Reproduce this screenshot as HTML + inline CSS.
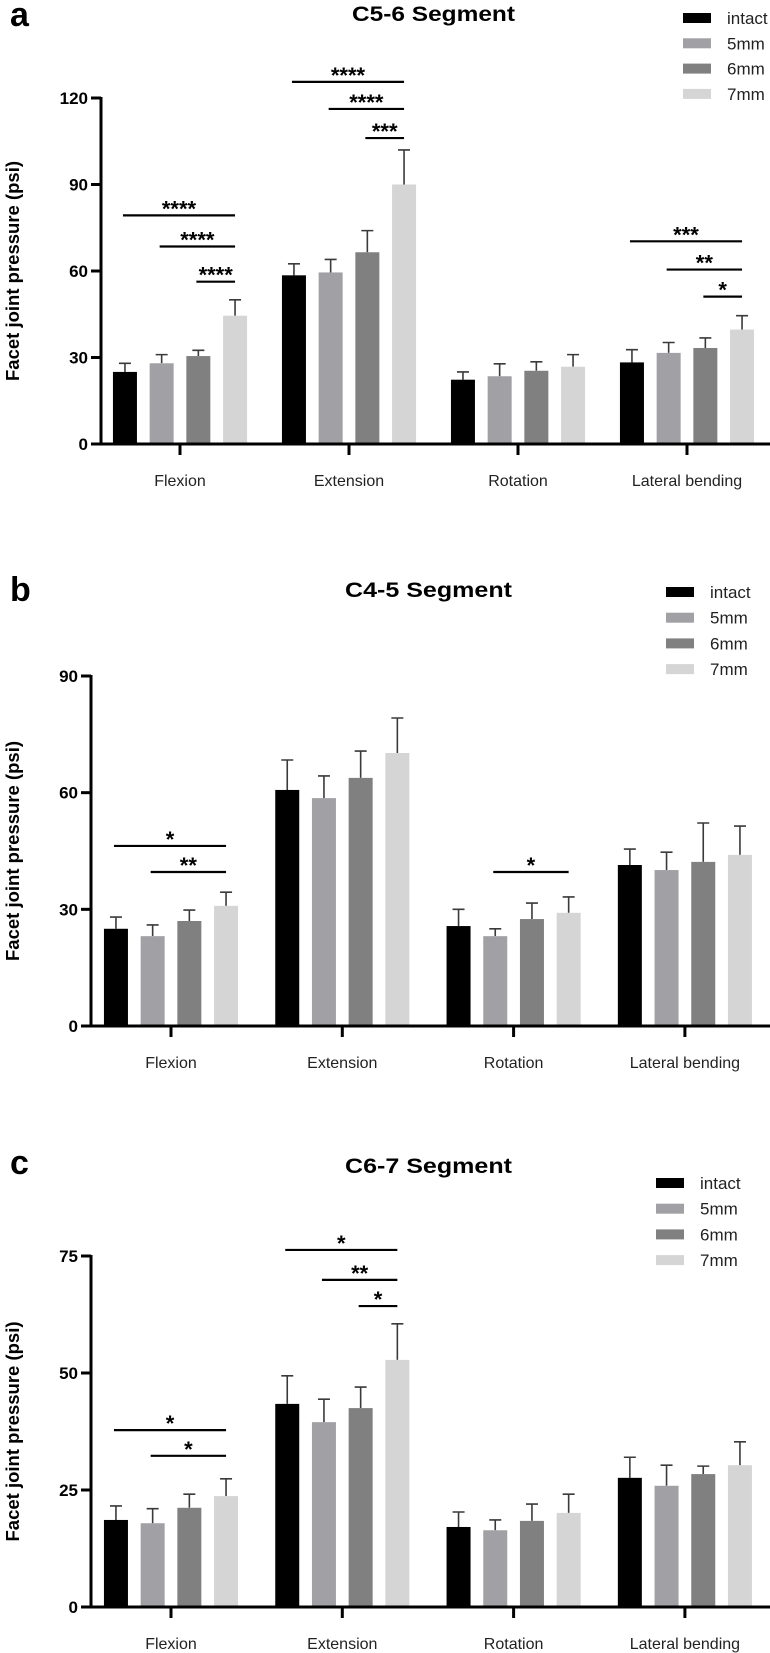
<!DOCTYPE html>
<html><head><meta charset="utf-8"><style>
html,body{margin:0;padding:0;background:#fff;}
svg{display:block;font-family:"Liberation Sans",Arial,sans-serif;}
</style></head><body>
<svg id="fig" width="770" height="1653" viewBox="0 0 770 1653" xmlns="http://www.w3.org/2000/svg"></svg>
<script>
const categories = ["Flexion","Extension","Rotation","Lateral bending"];
const seriesNames = ["intact","5mm","6mm","7mm"];
const seriesColors = ["#000000","#a1a1a5","#808080","#d5d5d5"];
// Panel a (C5-6): means per series, each over categories
const meansA = [[25,58.5,22.3,28.3],[28,59.5,23.5,31.6],[30.5,66.5,25.4,33.3],[44.5,90,26.8,39.7]];
const errTopA = [[28,62.5,25,32.7],[31,64,27.8,35.2],[32.5,74,28.5,36.8],[50,102,31,44.5]];
const ticksA = [0,30,60,90,120];
const sigA = [[0,0,3,"****",79.3],[0,1,3,"****",68.5],[0,2,3,"****",56.3],[1,0,3,"****",125.6],[1,1,3,"****",116.2],[1,2,3,"***",106.1],[3,0,3,"***",70.3],[3,1,3,"**",60.5],[3,2,3,"*",51.1]];
// Panel b (C4-5)
const meansB = [[25,60.7,25.7,41.4],[23.1,58.6,23.1,40.1],[27,63.8,27.5,42.2],[30.9,70.2,29.1,44]];
const errTopB = [[28,68.4,30,45.5],[26,64.3,25,44.7],[29.8,70.7,31.6,52.2],[34.4,79.2,33.2,51.4]];
const ticksB = [0,30,60,90];
const sigB = [[0,0,3,"*",46.3],[0,1,3,"**",39.6],[2,1,3,"*",39.6]];
// Panel c (C6-7)
const meansC = [[18.6,43.4,17.1,27.6],[17.9,39.5,16.4,25.9],[21.2,42.5,18.4,28.4],[23.7,52.8,20.1,30.3]];
const errTopC = [[21.6,49.4,20.3,32],[21,44.4,18.6,30.3],[24.1,47,22,30.1],[27.4,60.5,24.1,35.3]];
const ticksC = [0,25,50,75];
const sigC = [[0,0,3,"*",37.8],[0,1,3,"*",32.3],[1,0,3,"*",76.3],[1,1,3,"**",69.9],[1,2,3,"*",64.3]];

const svg = document.getElementById('fig');
const NS = "http://www.w3.org/2000/svg";
function mk(tag, attrs, parent){const e=document.createElementNS(NS,tag);for(const k in attrs)e.setAttribute(k,attrs[k]);(parent||svg).appendChild(e);return e;}

function panel(cfg, means, errTop, ticks, sig){
  const g = mk('g',{});
  
  
  const yMax = ticks[ticks.length-1];
  const y = v => cfg.y0 - (v/yMax)*(cfg.y0-cfg.yTop);
  const xc = i => cfg.x0 + cfg.first + i*cfg.step;
  const off = s => (s-1.5)*36.7;
  const L = mk('text',{x:10,y:cfg.letterY,'font-size':34,'font-weight':'bold',fill:'#000'},g);
  L.textContent = cfg.letter;
  
  
  const T = mk('text',{x:cfg.titleX,y:cfg.titleY,'font-size':21,'font-weight':'bold',fill:'#000',textLength:cfg.titleW,lengthAdjust:'spacingAndGlyphs'},g);
  T.textContent = cfg.title;
  
  
  const yc = (cfg.y0+cfg.yTop)/2;
  const YT = mk('text',{x:0,y:0,'font-size':18.5,'font-weight':'bold','text-anchor':'middle',transform:`translate(19,${yc}) rotate(-90)`,fill:'#000'},g);
  YT.textContent = 'Facet joint pressure (psi)';
  
  
  for(let s=0;s<4;s++){
    for(let c=0;c<4;c++){
      const cx = xc(c)+off(s);
      const eb = mk('path',{d:`M${cx} ${y(means[s][c])} V${y(errTop[s][c])} M${cx-6} ${y(errTop[s][c])} H${cx+6}`,stroke:'#3a3a3a','stroke-width':1.6,fill:'none'},g);
      
      
      const r = mk('rect',{x:cx-12,y:y(means[s][c]),width:24,height:cfg.y0-y(means[s][c]),fill:seriesColors[s]},g);
      
      
    }
  }
  const ya = mk('line',{x1:cfg.x0,y1:cfg.yTop-1,x2:cfg.x0,y2:cfg.y0+1.5,stroke:'#000','stroke-width':3},g);
  
  
  const xa = mk('line',{x1:cfg.x0-10,y1:cfg.y0,x2:770,y2:cfg.y0,stroke:'#000','stroke-width':3},g);
  
  
  ticks.forEach(t=>{
    if(t>0) mk('line',{x1:cfg.x0-10,y1:y(t),x2:cfg.x0,y2:y(t),stroke:'#000','stroke-width':3},g);
    const tl = mk('text',{x:cfg.x0-13,y:y(t)+6,'font-size':17,'font-weight':'bold','text-anchor':'end',fill:'#000'},g);
    tl.textContent = t;
    
    
  });
  categories.forEach((c,i)=>{
    mk('line',{x1:xc(i),y1:cfg.y0,x2:xc(i),y2:cfg.y0+11,stroke:'#000','stroke-width':3},g);
    const cl = mk('text',{x:xc(i),y:cfg.y0+42,'font-size':16,'text-anchor':'middle',fill:'#222'},g);
    cl.textContent = c;
    
    
  });
  sig.forEach(sg=>{
    const x1 = xc(sg[0])+off(sg[1])-2, x2 = xc(sg[0])+off(sg[2]);
    const ly = y(sg[4]);
    const ln = mk('line',{x1:x1,y1:ly,x2:x2,y2:ly,stroke:'#000','stroke-width':2.2},g);
    
    
    const st = mk('text',{x:(x1+x2)/2,y:ly+1,'font-size':22,'font-weight':'bold','text-anchor':'middle',fill:'#000'},g);
    st.textContent = sg[3];
    
    
  });
  seriesNames.forEach((n,i)=>{
    const ry = cfg.legY + i*cfg.legStep;
    const sw = mk('rect',{x:cfg.legX,y:ry-5,width:28,height:10,fill:seriesColors[i]},g);
    
    
    const lt = mk('text',{x:cfg.legX+44,y:ry+6,'font-size':17,fill:'#222'},g);
    lt.textContent = n;
    
    
  });
}

panel({letter:'a',letterY:26,title:'C5-6 Segment',titleX:352,titleY:21,titleW:163,x0:101,first:79,step:169,y0:444,yTop:98,legX:683,legY:18,legStep:25.3},meansA,errTopA,ticksA,sigA);
panel({letter:'b',letterY:601,title:'C4-5 Segment',titleX:345,titleY:597,titleW:167,x0:91,first:80,step:171.3,y0:1026,yTop:676,legX:666,legY:592,legStep:25.7},meansB,errTopB,ticksB,sigB);
panel({letter:'c',letterY:1174,title:'C6-7 Segment',titleX:345,titleY:1173,titleW:167,x0:91,first:80,step:171.3,y0:1607,yTop:1256,legX:656,legY:1183,legStep:25.7},meansC,errTopC,ticksC,sigC);
</script>
</body></html>
